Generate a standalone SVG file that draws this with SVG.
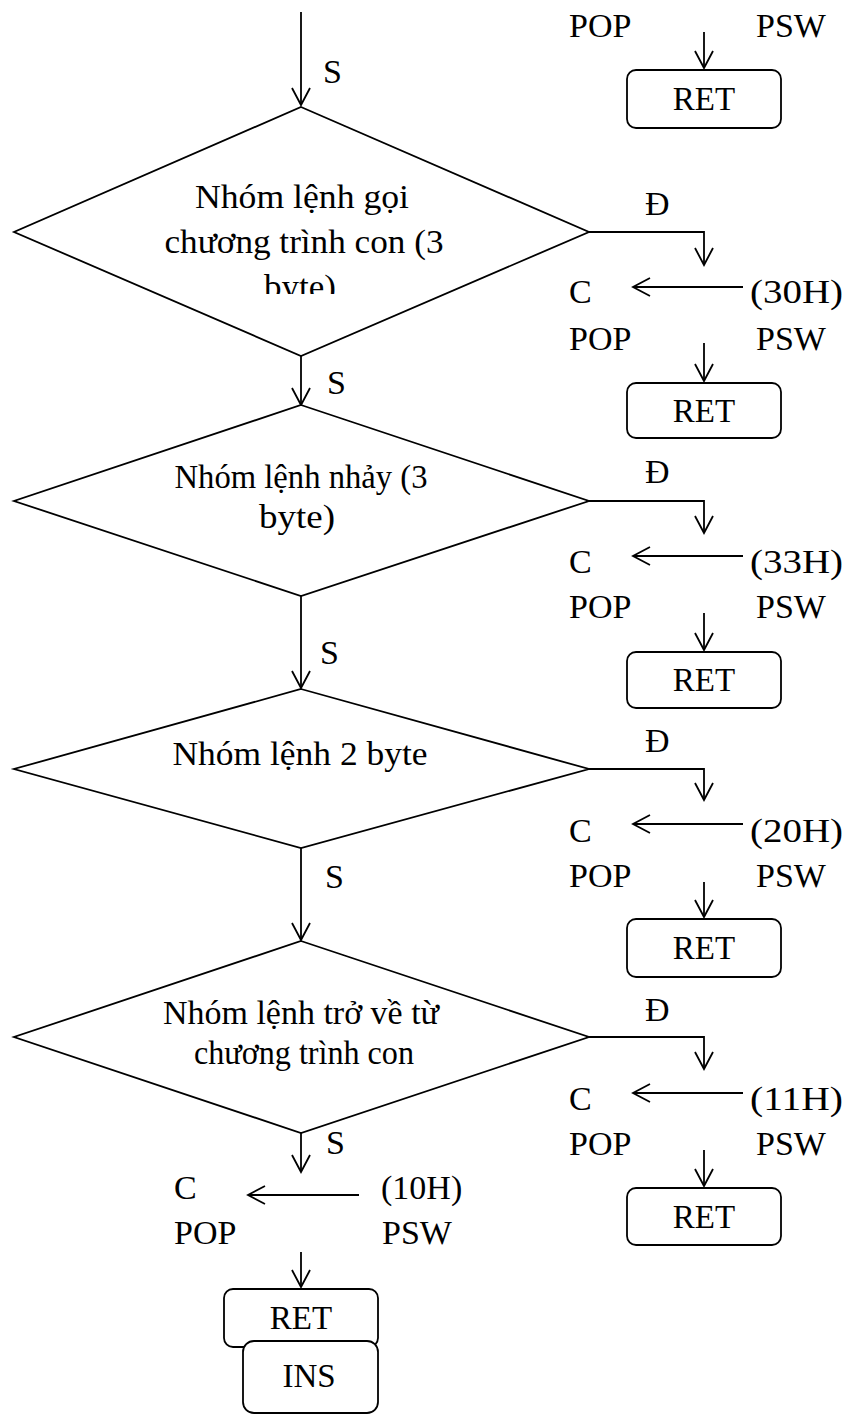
<svg xmlns="http://www.w3.org/2000/svg" width="848" height="1414" viewBox="0 0 848 1414">
  <style>
    .shape { fill: #fff; stroke: #000; stroke-width: 1.8; }
    .line { fill: none; stroke: #000; stroke-width: 1.8; marker-end: url(#arrow); }
    .lbl { font-family: "Liberation Serif", "Times New Roman", serif; font-size: 34px; fill: #000; }
    .dtxt { font-family: "Liberation Serif", "Times New Roman", serif; font-size: 34px; fill: #000; text-anchor: middle; }
    .btxt { font-family: "Liberation Serif", "Times New Roman", serif; font-size: 33px; fill: #000; text-anchor: middle; }
  </style>
  <defs>
    <marker id="arrow" markerUnits="userSpaceOnUse" markerWidth="24" markerHeight="24" viewBox="-20 -12 24 24" refX="0" refY="0" orient="auto">
      <path d="M -17 -9 L 0 0 L -17 9" fill="none" stroke="#000" stroke-width="1.8"/>
    </marker>
    <clipPath id="clipD1">
      <rect x="0" y="0" width="848" height="294"/>
    </clipPath>
  </defs>

  <rect width="848" height="1414" fill="#fff"/>

  <!-- connectors -->
  <g id="connectors">
    <!-- main trunk -->
    <line class="line" x1="301" y1="12" x2="301" y2="105"/>
    <line class="line" x1="301" y1="356" x2="301" y2="405"/>
    <line class="line" x1="301" y1="596" x2="301" y2="688"/>
    <line class="line" x1="301" y1="848" x2="301" y2="940"/>
    <line class="line" x1="301" y1="1133" x2="301" y2="1172"/>
    <!-- top right block -->
    <line class="line" x1="704" y1="32" x2="704" y2="68"/>
    <!-- branch 1 -->
    <polyline class="line" points="589,232 704,232 704,265"/>
    <line class="line" x1="743" y1="287" x2="633" y2="287"/>
    <line class="line" x1="704" y1="343" x2="704" y2="381"/>
    <!-- branch 2 -->
    <polyline class="line" points="589,501 704,501 704,533"/>
    <line class="line" x1="743" y1="556" x2="633" y2="556"/>
    <line class="line" x1="704" y1="613" x2="704" y2="650"/>
    <!-- branch 3 -->
    <polyline class="line" points="589,769 704,769 704,800"/>
    <line class="line" x1="743" y1="824" x2="633" y2="824"/>
    <line class="line" x1="704" y1="882" x2="704" y2="917"/>
    <!-- branch 4 -->
    <polyline class="line" points="589,1037 704,1037 704,1069"/>
    <line class="line" x1="743" y1="1093" x2="633" y2="1093"/>
    <line class="line" x1="704" y1="1150" x2="704" y2="1186"/>
    <!-- bottom left block -->
    <line class="line" x1="359" y1="1195" x2="248" y2="1195"/>
    <line class="line" x1="301" y1="1252" x2="301" y2="1287"/>

    <!-- branch labels -->
    <text class="lbl" x="323" y="83">S</text>
    <text class="lbl" x="327" y="394">S</text>
    <text class="lbl" x="320" y="664">S</text>
    <text class="lbl" x="325" y="888">S</text>
    <text class="lbl" x="326" y="1154">S</text>
    <text class="lbl" x="645" y="215">Đ</text>
    <text class="lbl" x="645" y="483">Đ</text>
    <text class="lbl" x="645" y="752">Đ</text>
    <text class="lbl" x="645" y="1021">Đ</text>
  </g>

  <!-- top right: POP PSW / RET -->
  <g id="top-block">
    <text class="lbl" x="569" y="37">POP</text>
    <text class="lbl" x="756" y="37">PSW</text>
  </g>
  <g id="ret0">
    <rect class="shape" x="627" y="70" width="154" height="58" rx="9"/>
    <text class="btxt" x="704" y="110">RET</text>
  </g>

  <!-- decision 1 -->
  <g id="decision1">
    <polygon class="shape" points="301,107 589,232 301,356 14,232"/>
    <text class="dtxt" x="302" y="208" textLength="214" lengthAdjust="spacingAndGlyphs">Nhóm lệnh gọi</text>
    <text class="dtxt" x="304" y="253" textLength="279" lengthAdjust="spacingAndGlyphs">chương trình con (3</text>
    <text class="dtxt" x="300" y="298" textLength="72" lengthAdjust="spacingAndGlyphs" clip-path="url(#clipD1)">byte)</text>
  </g>
  <g id="block1">
    <text class="lbl" x="569" y="303">C</text>
    <text class="lbl" x="750" y="303" textLength="93" lengthAdjust="spacingAndGlyphs">(30H)</text>
    <text class="lbl" x="569" y="350">POP</text>
    <text class="lbl" x="756" y="350">PSW</text>
  </g>
  <g id="ret1">
    <rect class="shape" x="627" y="383" width="154" height="55" rx="9"/>
    <text class="btxt" x="704" y="422">RET</text>
  </g>

  <!-- decision 2 -->
  <g id="decision2">
    <polygon class="shape" points="301,405 589,501 301,596 14,501"/>
    <text class="dtxt" x="301" y="488" textLength="253" lengthAdjust="spacingAndGlyphs">Nhóm lệnh nhảy (3</text>
    <text class="dtxt" x="297" y="528" textLength="76" lengthAdjust="spacingAndGlyphs">byte)</text>
  </g>
  <g id="block2">
    <text class="lbl" x="569" y="573">C</text>
    <text class="lbl" x="750" y="573" textLength="93" lengthAdjust="spacingAndGlyphs">(33H)</text>
    <text class="lbl" x="569" y="618">POP</text>
    <text class="lbl" x="756" y="618">PSW</text>
  </g>
  <g id="ret2">
    <rect class="shape" x="627" y="652" width="154" height="56" rx="9"/>
    <text class="btxt" x="704" y="691">RET</text>
  </g>

  <!-- decision 3 -->
  <g id="decision3">
    <polygon class="shape" points="301,689 589,769 301,848 14,769"/>
    <text class="dtxt" x="300" y="765" textLength="255" lengthAdjust="spacingAndGlyphs">Nhóm lệnh 2 byte</text>
  </g>
  <g id="block3">
    <text class="lbl" x="569" y="842">C</text>
    <text class="lbl" x="750" y="842" textLength="93" lengthAdjust="spacingAndGlyphs">(20H)</text>
    <text class="lbl" x="569" y="887">POP</text>
    <text class="lbl" x="756" y="887">PSW</text>
  </g>
  <g id="ret3">
    <rect class="shape" x="627" y="919" width="154" height="58" rx="9"/>
    <text class="btxt" x="704" y="959">RET</text>
  </g>

  <!-- decision 4 -->
  <g id="decision4">
    <polygon class="shape" points="301,941 589,1037 301,1133 14,1037"/>
    <text class="dtxt" x="301" y="1024" textLength="276" lengthAdjust="spacingAndGlyphs">Nhóm lệnh trở về từ</text>
    <text class="dtxt" x="304" y="1064" textLength="220" lengthAdjust="spacingAndGlyphs">chương trình con</text>
  </g>
  <g id="block4">
    <text class="lbl" x="569" y="1110">C</text>
    <text class="lbl" x="750" y="1110" textLength="93" lengthAdjust="spacingAndGlyphs">(11H)</text>
    <text class="lbl" x="569" y="1155">POP</text>
    <text class="lbl" x="756" y="1155">PSW</text>
  </g>
  <g id="ret4">
    <rect class="shape" x="627" y="1188" width="154" height="57" rx="9"/>
    <text class="btxt" x="704" y="1228">RET</text>
  </g>

  <!-- final branch: C <- (10H), POP PSW, RET, INS -->
  <g id="block5">
    <text class="lbl" x="174" y="1199">C</text>
    <text class="lbl" x="381" y="1199">(10H)</text>
    <text class="lbl" x="174" y="1244">POP</text>
    <text class="lbl" x="382" y="1244">PSW</text>
  </g>
  <g id="ret5">
    <rect class="shape" x="224" y="1289" width="154" height="58" rx="9"/>
    <text class="btxt" x="301" y="1329">RET</text>
  </g>
  <g id="ins">
    <rect class="shape" x="243" y="1341" width="135" height="72" rx="11"/>
    <text class="btxt" x="309" y="1387">INS</text>
  </g>
</svg>
